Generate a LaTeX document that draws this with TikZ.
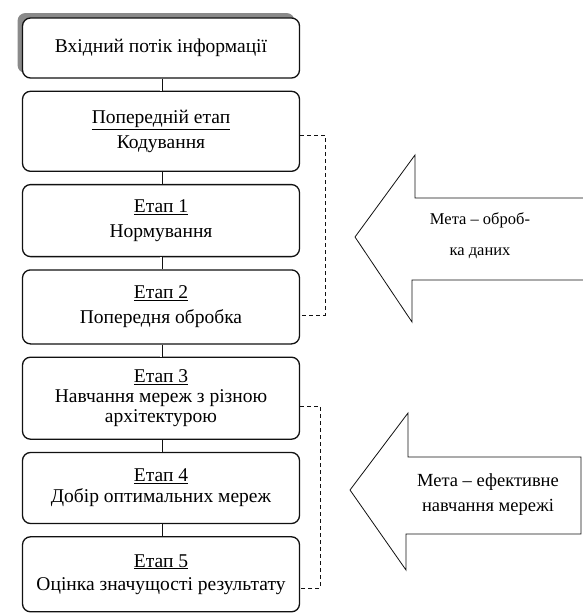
\documentclass[tikz,border=0pt]{standalone}
\usepackage{fontspec}
\setmainfont{Liberation Serif}
\usepackage{xcolor}
\definecolor{ink}{HTML}{111111}
\definecolor{shade}{HTML}{8a8a8a}
\usepackage{tikz}
\usetikzlibrary{positioning, shadows}

\begin{document}
\begin{tikzpicture}[
  x=1pt, y=-1pt,
  font=\fontsize{19.5}{25}\selectfont,
  node distance=12pt,
  every node/.style={align=center},
  stage/.style={rectangle, draw=ink, fill=white, line width=1.3pt,
    rounded corners=8pt, inner sep=2pt, minimum width=277pt},
  link/.style={draw=ink, double, double distance=1.8pt, line width=0.6pt},
  bracket/.style={draw=ink, dashed, dash pattern=on 4pt off 3pt, line width=0.6pt},
  goal/.style={draw=ink, fill=white, line width=0.8pt, line join=miter},
]
  \useasboundingbox (0,0) rectangle (583,613);

  \node[stage, minimum height=60pt,
    drop shadow={shadow xshift=-5pt, shadow yshift=5pt, fill=shade, opacity=1}]
    at (161,48) (input) {Вхідний потік інформації};
  \node[stage, minimum height=80pt, below=of input] (pre) {\underline{Попередній етап}\\ Кодування};
  \node[stage, minimum height=72pt, below=of pre] (s1) {\underline{Етап 1}\\ Нормування};
  \node[stage, minimum height=74pt, below=of s1] (s2) {\underline{Етап 2}\\ Попередня обробка};
  \node[stage, minimum height=82pt, below=of s2, font=\fontsize{19.5}{20}\selectfont] (s3) {\underline{Етап 3}\\ Навчання мереж з різною\\ архітектурою};
  \node[stage, minimum height=71pt, below=of s3, font=\fontsize{19.5}{21}\selectfont] (s4) {\underline{Етап 4}\\ Добір оптимальних мереж};
  \node[stage, minimum height=75pt, below=of s4, font=\fontsize{19.5}{23}\selectfont] (s5) {\underline{Етап 5}\\ Оцінка значущості результату};

  \draw[link] (input) -- (pre);
  \draw[link] (pre) -- (s1);
  \draw[link] (s1) -- (s2);
  \draw[link] (s2) -- (s3);
  \draw[link] (s3) -- (s4);
  \draw[link] (s4) -- (s5);

  % groups of stages
  \draw[bracket] ([yshift=-4pt]pre.east) -- ++(25,0) |- ([yshift=-8pt]s2.east);
  \draw[bracket] ([yshift=-8pt]s3.east) -- ++(20,0) |- ([yshift=-14pt]s5.east);

  % goal arrows
  \draw[goal] (583,198) -- (415,198) -- (415,155) -- (355,237) -- (412,322) -- (412,280) -- (583,280);
  \node[font=\fontsize{16.5}{31}\selectfont] (goal1) at (480,236) {Мета – оброб-\\ ка даних};

  \draw[goal] (581,457) -- (408,457) -- (408,413) -- (350,490) -- (406,570) -- (406,534) -- (581,534) -- cycle;
  \node[font=\fontsize{18.5}{25}\selectfont] (goal2) at (488,495) {Мета – ефективне\\ навчання мережі};
\end{tikzpicture}
\end{document}
